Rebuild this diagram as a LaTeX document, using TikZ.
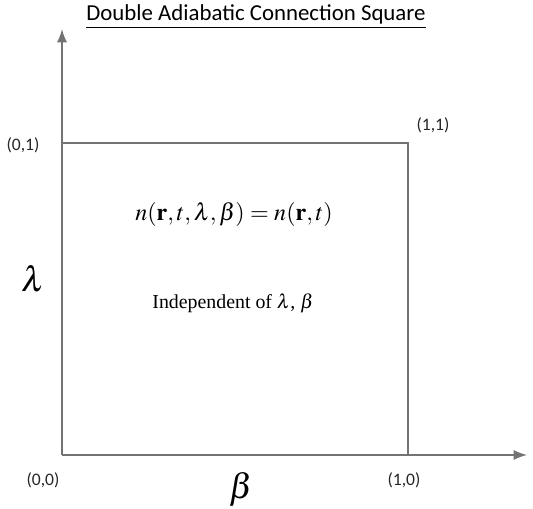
\documentclass[tikz,border=0pt]{standalone}
\usepackage{mathptmx}
\usepackage[no-math]{fontspec}
\setmainfont{Liberation Serif}
\newfontfamily\labelfont{Carlito}
\begin{document}
\begin{tikzpicture}[
    x=0.02cm, y=0.02cm,
    axis/.style = { draw=gray!90!black, line width=1.6pt },
    corner/.style = { font=\labelfont\fontsize{10}{12}\selectfont, text=black!85 },
    >=latex,
    ]
    \useasboundingbox (0,0) rectangle (533,509);

    % axes
    \coordinate (O) at (62,54);
    \coordinate (Ytip) at (62,480);
    \coordinate (Xtip) at (527,54);
    \draw[axis, ->] (O) -- (Ytip);
    \draw[axis, ->] (O) -- (Xtip);

    % square
    \coordinate (A) at (62,366);
    \coordinate (B) at (408,366);
    \coordinate (C) at (408,54);
    \draw[axis] (A) -- (B) -- (C);

    % corner labels
    \node[corner] (l00) at (43,29) {(0,0)};
    \node[corner] (l10) at (404,29) {(1,0)};
    \node[corner] (l01) at (23,364) {(0,1)};
    \node[corner] (l11) at (433,384) {(1,1)};

    % axis names
    \node[font=\fontsize{20}{24}\selectfont] (beta) at (241,20) {$\beta$};
    \node[font=\fontsize{20}{24}\selectfont] (lambda) at (33,230) {$\lambda$};

    \node[font=\labelfont\fontsize{13}{15}\selectfont] (title) at (256,492)
        {\underline{Double Adiabatic Connection Square}};
    \node[font=\fontsize{13.7}{16}\selectfont] (eq) at (234,295)
        {$n(\mathbf{r},t,\lambda,\beta)=n(\mathbf{r},t)$};
    \node[font=\fontsize{11.3}{13}\selectfont] (indep) at (233,206)
        {Independent of $\lambda$, $\beta$};

  \end{tikzpicture}
\end{document}
